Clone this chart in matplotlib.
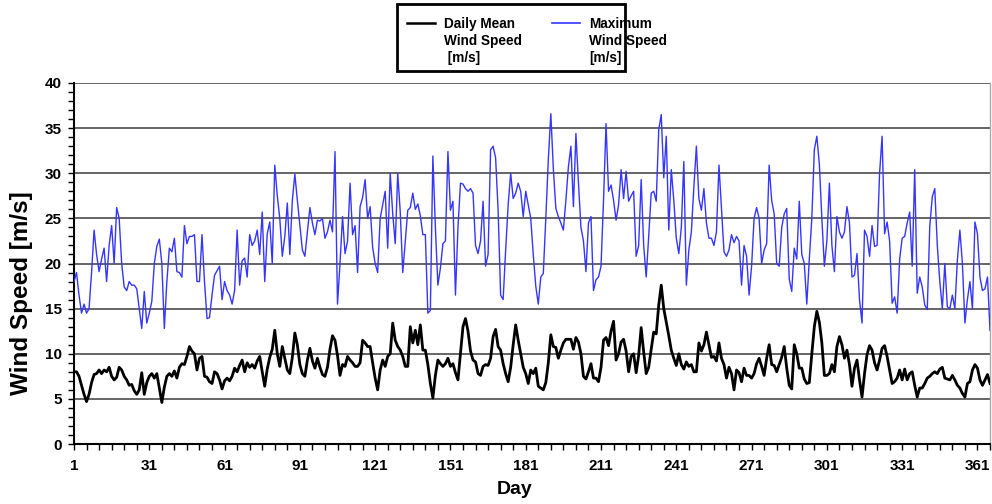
import numpy as np
import matplotlib
matplotlib.use("Agg")
import matplotlib.pyplot as plt
from matplotlib.lines import Line2D
from matplotlib.patches import Rectangle
from matplotlib.ticker import MultipleLocator, FixedLocator

plt.rcParams['font.family'] = ['Liberation Sans', 'DejaVu Sans']
plt.rcParams['font.weight'] = 'bold'

# daily mean wind speed [m/s], day 1 .. 366
mean_speed = [
    8.0, 8.0, 7.5, 6.5, 5.5, 4.7, 5.5, 6.8, 7.7, 7.8,
    8.2, 7.8, 8.2, 8.0, 8.5, 7.5, 7.1, 7.4, 8.5, 8.2,
    7.5, 7.1, 6.5, 6.6, 5.9, 5.5, 6.0, 7.9, 5.5, 6.8,
    7.5, 7.8, 7.3, 7.8, 6.2, 4.6, 6.3, 7.5, 7.8, 7.5,
    8.1, 7.3, 8.5, 8.9, 8.8, 9.7, 10.8, 10.3, 10.0, 8.2,
    9.5, 9.7, 7.5, 7.4, 6.9, 6.7, 8.0, 7.8, 7.1,
    6.1, 7.0, 7.3, 7.0, 7.5, 8.4, 8.0, 8.7, 9.3, 8.0,
    9.0, 8.5, 8.8, 8.4, 9.2, 9.7, 8.0, 6.4, 8.3, 9.6,
    10.5, 12.6, 10.0, 8.6, 10.8, 9.5, 8.2, 7.8, 9.6, 12.3,
    11.0, 8.8, 7.8, 7.5, 9.3, 10.6, 9.2, 8.4, 9.5, 8.5,
    7.7, 7.5, 8.5, 10.5, 12.0, 11.5, 9.8, 7.6, 8.8, 8.6,
    9.7, 9.3, 9.0, 8.6, 8.6, 9.0, 11.5, 11.2, 10.8, 10.8,
    9.0, 7.3, 6.0, 8.2, 9.3, 8.6, 9.7, 10.0, 13.4, 11.5,
    10.8, 10.4, 9.7, 8.6, 8.6, 13.0, 11.2, 12.6, 11.0, 13.2,
    10.4, 10.4, 8.8, 6.7, 5.1, 7.6, 9.3, 8.9, 8.6, 8.9,
    9.5, 8.6, 8.9, 7.9, 7.1, 10.0, 13.0, 13.9, 12.5, 10.3,
    9.3, 9.1, 7.8, 7.6, 8.6, 8.8, 8.7, 9.5, 11.9, 12.7,
    10.8, 10.4, 8.9, 7.8, 6.9, 8.5, 11.0, 13.2, 11.5,
    10.0, 8.5, 7.8, 6.7, 8.2, 7.8, 8.4, 6.4, 6.2, 6.0,
    6.8, 9.0, 12.1, 10.8, 10.7, 9.5, 10.4, 11.2, 11.6, 11.6,
    11.6, 10.5, 11.8, 11.3, 10.0, 7.5, 7.2, 8.0, 8.9, 7.3,
    7.3, 6.9, 8.5, 11.5, 11.8, 10.9, 12.5, 13.6, 9.3, 10.0,
    11.3, 11.6, 10.3, 8.0, 9.7, 10.0, 7.9, 9.8, 12.9, 10.2,
    7.8, 8.5, 10.5, 12.4, 12.2, 15.4, 17.6, 15.0, 13.5, 12.0,
    10.4, 9.5, 8.7, 10.0, 8.8, 8.3, 9.1, 8.6, 8.8, 8.0,
    8.0, 11.2, 10.3, 11.0, 12.4, 11.0, 9.6, 9.7, 9.2, 11.2,
    9.5, 8.8, 7.3, 8.5, 7.8, 6.0, 8.2, 7.9, 6.9, 8.4,
    7.6, 7.6, 7.3, 7.8, 8.9, 9.5, 8.6, 7.6, 9.5,
    11.0, 8.8, 8.7, 8.0, 8.8, 9.6, 10.8, 8.4, 6.5, 6.1,
    11.0, 10.0, 8.4, 8.4, 7.2, 6.7, 6.8, 10.0, 13.0, 14.7,
    13.5, 11.2, 7.6, 7.6, 7.8, 8.8, 8.0, 10.8, 11.9, 11.0,
    9.5, 10.4, 8.8, 6.4, 8.4, 9.3, 7.1, 5.2, 7.8, 9.9,
    10.9, 10.4, 9.0, 8.2, 9.3, 10.6, 10.9, 9.7, 8.2, 6.7,
    6.9, 7.3, 8.2, 7.1, 8.3, 7.1, 7.8, 8.0, 6.5, 5.2,
    6.2, 6.2, 6.7, 7.3, 7.5, 7.8, 8.0, 7.8, 8.3, 8.5,
    7.3, 7.2, 7.1, 7.6, 7.1, 6.5, 6.2, 5.6, 5.2, 6.7,
    6.9, 8.2, 8.8, 8.4, 7.1, 6.5, 7.1, 7.7, 6.7,
]

# daily maximum wind speed [m/s], day 1 .. 366
max_speed = [
    18, 19, 16.5, 14.5, 15.5, 14.5, 15, 19, 23.7, 21,
    19.1, 20.5, 21.7, 18, 22, 24.2, 20, 26.2, 25, 20,
    17.4, 17, 18, 17.6, 17.6, 17.2, 15, 12.8, 16.9, 13.4,
    14.5, 15.8, 20, 21.9, 22.7, 20, 12.8, 18, 21.7, 21.3,
    22.8, 19.1, 19, 18.5, 24.2, 22.2, 23, 23, 23.2, 18,
    18, 23.2, 18, 13.9, 14, 16.5, 18.7, 19.2, 19.7,
    16, 18, 17, 16.5, 15.5, 17, 23.7, 17.6, 20.3, 20.6,
    18.5, 23.2, 22, 22.5, 23.7, 21, 25.7, 18, 23.3, 24.6,
    20, 30.9, 27.5, 25, 20.8, 23, 26.7, 21, 27, 29.9,
    27, 24.3, 21.5, 20.8, 23.5, 26.2, 24.5, 23.2, 24.8, 24.7,
    25, 22.8, 23.5, 24.8, 23.5, 32.4, 15.5, 20, 25.2, 21.1,
    22.5, 28.9, 23.2, 24.2, 19, 26.3, 27.3, 29.3, 25, 26.3,
    21.8, 20, 19, 25, 26.5, 28, 21.7, 30, 25.5, 22.2,
    30, 25.7, 19, 22.5, 25.9, 26.2, 27.8, 26, 26.6, 25.3,
    23.2, 23.2, 14.5, 14.8, 31.9, 24, 17.6, 19.5, 22.2, 22.5,
    32.4, 25.9, 26.9, 16.5, 24, 28.9, 28.8, 28.3, 28, 28.3,
    27.8, 22, 21.1, 22.5, 26.9, 19.7, 21, 32.6, 33, 31.7,
    25.9, 16.5, 16, 21.5, 26.5, 30, 27.2, 27.8, 28.9,
    28, 25.2, 28, 26.5, 25, 21, 17.5, 15.5, 18.5, 18.9,
    25, 31.5, 36.6, 30.5, 26.1, 25.2, 24.5, 23.7, 27, 30.7,
    33, 26.3, 34.4, 29, 24, 22.5, 19.1, 24.5, 25.2, 17,
    18.2, 18.5, 19.7, 27, 35.5, 28, 28.7, 27, 24.8, 26.5,
    30.4, 27.2, 30.2, 26.9, 27.5, 28, 20.8, 22, 29.3, 22,
    18.5, 23, 27.8, 28, 26.9, 34.8, 36.5, 29.5, 34.1, 23.7,
    30.4, 27, 22.8, 21.1, 24, 31.3, 17.6, 21.5, 23.5, 28.5,
    33, 27.2, 25.9, 28.3, 24.5, 22.8, 22.8, 22, 23.5, 30.9,
    26, 21.3, 20.8, 21.5, 23.2, 22.3, 23, 22.5, 17.6, 22,
    20.8, 16.5, 19.7, 25, 26.2, 25, 20, 21.5, 22.2,
    30.9, 27, 25.5, 20, 19.7, 24, 25.5, 26.1, 18.3, 16.9,
    21.7, 20.5, 26.9, 21, 20, 15.5, 20.5, 25, 32.6, 34.1,
    31, 25, 19.7, 22.5, 28.9, 22, 19.1, 25.2, 23.5, 22.8,
    23.5, 26.3, 24.5, 18.5, 18.7, 21.1, 16, 13.4, 23.7, 23,
    20.8, 24.2, 21.9, 22, 30, 34.1, 23.3, 24.6, 22.5, 15.6,
    16.3, 14.5, 20.5, 22.8, 23, 24.5, 25.7, 19.7, 30.4, 16.7,
    18.5, 17.4, 15.4, 14.9, 24.1, 27.4, 28.3, 22, 18, 15,
    20, 15.2, 15, 16.5, 15, 20.4, 23.7, 20, 13.4, 16,
    18, 15, 24.6, 23.3, 18.5, 17, 17.2, 18.5, 12.6,
]

day_ticks = list(range(1, 362, 30))
legend_labels = ["Daily Mean\nWind Speed\n [m/s]", "Maximum\nWind Speed\n[m/s]"]
legend_colors = ["black", "#3535ff"]

fig = plt.figure(figsize=(9.92, 5.04), dpi=100)
ax = fig.add_axes([74 / 992, 60 / 504, 916 / 992, 361 / 504])

mean_days = np.arange(1, len(mean_speed) + 1)
max_days = np.arange(1, len(max_speed) + 1)
ax.plot(max_days, max_speed, color=legend_colors[1], lw=1.0, zorder=3)
ax.plot(mean_days, mean_speed, color=legend_colors[0], lw=2.0, zorder=4)

ax.set_xlim(1, len(mean_speed))
ax.set_ylim(0, 40)
ax.set_xticks(day_ticks)
ax.xaxis.set_minor_locator(FixedLocator(range(1, len(mean_speed) + 1, 5)))
ax.yaxis.set_major_locator(MultipleLocator(5))
ax.yaxis.set_minor_locator(MultipleLocator(1))
ax.tick_params(which='both', direction='out', length=4, width=1, color='black')
ax.tick_params(axis='both', which='major', labelsize=11)
ax.tick_params(axis='y', pad=5)
ax.tick_params(axis='x', pad=7)
ax.grid(axis='y', which='major', color='#3c3c3c', lw=1.1)

ax.spines['top'].set_visible(False)
ax.spines['right'].set_color('#aaaaaa')
ax.spines['right'].set_linewidth(1)
for side in ['left', 'bottom']:
    ax.spines[side].set_linewidth(1.5)

# axis titles placed where they sit in the original
fig.text(515 / 992, 1 - 490 / 504, "Day", fontsize=14, fontweight='bold',
         ha='center', va='center')
fig.text(22 / 992, 1 - 293 / 504, "Wind Speed [m/s]", fontsize=17.5,
         fontweight='bold', ha='center', va='center', rotation=90)

# legend box above the plot
fig.add_artist(Rectangle((397 / 992, 1 - 71 / 504), 228 / 992, 67 / 504,
                         transform=fig.transFigure, fill=False,
                         edgecolor='black', lw=2))
for x0, label, col in zip([407, 552], legend_labels, legend_colors):
    fig.add_artist(Line2D([x0 / 992, (x0 + 28) / 992], [1 - 23 / 504, 1 - 23 / 504],
                          transform=fig.transFigure, color=col,
                          lw=1.8 if col == 'black' else 1.2))
    fig.text((x0 + 37) / 992, 1 - 17 / 504, label, fontsize=9.8,
             fontweight='bold', va='top', ha='left', linespacing=1.28)

fig.savefig("out.png", dpi=100)
